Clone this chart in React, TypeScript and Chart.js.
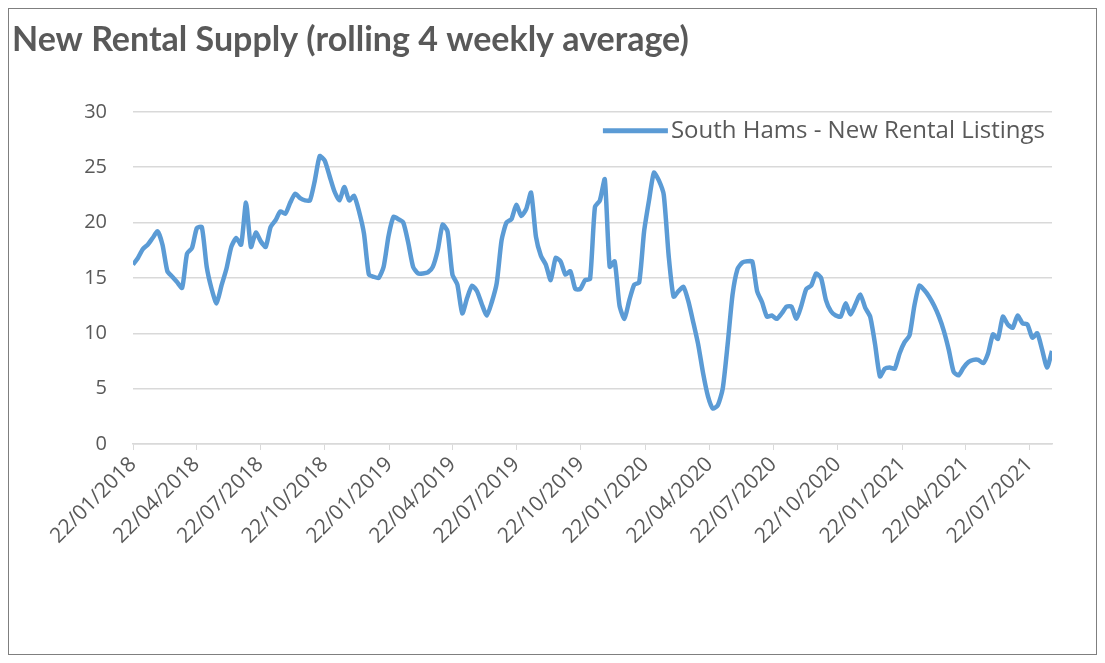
import { useEffect, useRef } from "react";
import { Chart, registerables } from "chart.js";

Chart.register(...registerables);

const chartTitle = "New Rental Supply (rolling 4 weekly average)";
const seriesName = "South Hams - New Rental Listings";

// first week of the series (weekly data, one value per Monday)
const firstWeek = "22/01/2018";

// x-axis tick labels (quarterly)
const xTickLabels = [
  "22/01/2018", "22/04/2018", "22/07/2018", "22/10/2018",
  "22/01/2019", "22/04/2019", "22/07/2019", "22/10/2019",
  "22/01/2020", "22/04/2020", "22/07/2020", "22/10/2020",
  "22/01/2021", "22/04/2021", "22/07/2021",
];

const yTickValues = [0, 5, 10, 15, 20, 25, 30];

// rolling 4-weekly average of new rental listings, one value per week
const weeklyListings = [
  16.2, 16.8, 17.6, 18.0, 18.6, 19.2, 18.0, 15.6, 15.1, 14.6,
  14.1, 17.2, 17.7, 19.5, 19.6, 16.0, 14.0, 12.7, 14.3, 15.8,
  17.8, 18.6, 18.0, 21.8, 17.8, 19.1, 18.3, 17.8, 19.6, 20.2,
  21.0, 20.8, 21.8, 22.6, 22.2, 22.0, 22.0, 23.8, 26.0, 25.6,
  24.2, 22.8, 22.0, 23.2, 22.0, 22.4, 21.0, 19.0, 15.3, 15.1,
  15.0, 16.0, 18.8, 20.5, 20.3, 20.0, 18.2, 16.0, 15.4, 15.4,
  15.5, 16.0, 17.5, 19.8, 19.2, 15.3, 14.4, 11.8, 13.2, 14.3,
  13.8, 12.6, 11.6, 12.8, 14.5, 18.4, 20.0, 20.3, 21.6, 20.6,
  21.2, 22.7, 18.7, 17.0, 16.2, 14.8, 16.8, 16.5, 15.3, 15.6,
  14.0, 14.0, 14.8, 14.9, 21.4, 22.0, 23.9, 16.0, 16.5, 12.5,
  11.3, 13.0, 14.4, 14.6, 19.2, 22.0, 24.5, 23.8, 22.5, 17.0,
  13.3, 13.8, 14.2, 12.9, 11.0, 9.0, 6.4, 4.3, 3.2, 3.5,
  5.0, 9.0, 13.5, 15.8, 16.4, 16.5, 16.5, 13.8, 12.8, 11.5,
  11.6, 11.3, 11.8, 12.4, 12.4, 11.3, 12.5, 14.0, 14.3, 15.4,
  15.0, 13.0, 12.0, 11.6, 11.5, 12.7, 11.7, 12.6, 13.5, 12.3,
  11.5, 9.0, 6.1, 6.8, 6.9, 6.8, 8.2, 9.2, 9.8, 12.5,
  14.3, 13.9, 13.3, 12.5, 11.5, 10.2, 8.5, 6.5, 6.2, 6.9,
  7.4, 7.6, 7.6, 7.3, 8.2, 9.9, 9.5, 11.5, 10.8, 10.5,
  11.6, 10.9, 10.8, 9.6, 10.0, 8.5, 6.9, 8.4,
];

const DAY = 86400000;
function parseDate(s: string): number {
  const [d, m, y] = s.split("/").map(Number);
  return Date.UTC(y, m - 1, d);
}
const t0 = parseDate(firstWeek);
const dayOffset = (s: string) => Math.round((parseDate(s) - t0) / DAY);
const tickOffsets = xTickLabels.map(dayOffset);

const LINE_COLOR = "#5B9BD5";
const TEXT_COLOR = "#595959";
const GRID_COLOR = "#D9D9D9";
const LEGEND_FONT = "24px 'Open Sans'";

// legend drawn inside the plot area, top right (Excel style)
const insideLegend = {
  id: "insideLegend",
  afterDatasetsDraw(chart: any) {
    const { ctx, chartArea } = chart;
    const ds = chart.data.datasets[0];
    ctx.save();
    ctx.font = LEGEND_FONT;
    const text = String(ds.label);
    const tw = ctx.measureText(text).width;
    const textRight = chartArea.right - 7;
    const textLeft = textRight - tw;
    const cy = chartArea.top + 19;
    const lineRight = textLeft - 3;
    const lineLeft = lineRight - 65;
    ctx.strokeStyle = ds.borderColor;
    ctx.lineWidth = 5;
    ctx.lineCap = "butt";
    ctx.beginPath();
    ctx.moveTo(lineLeft, cy);
    ctx.lineTo(lineRight, cy);
    ctx.stroke();
    ctx.fillStyle = TEXT_COLOR;
    ctx.textBaseline = "middle";
    ctx.textAlign = "left";
    ctx.fillText(text, textLeft, cy);
    ctx.restore();
  },
};

export default function App() {
  const canvasRef = useRef<HTMLCanvasElement | null>(null);

  useEffect(() => {
    if (!canvasRef.current) return;
    const points = weeklyListings.map((v, i) => ({ x: i * 7, y: v }));
    const chart = new Chart(canvasRef.current, {
      type: "line",
      data: {
        datasets: [
          {
            label: seriesName,
            data: points,
            borderColor: LINE_COLOR,
            backgroundColor: LINE_COLOR,
            borderWidth: 4.5,
            pointRadius: 0,
            pointHoverRadius: 0,
            tension: 0.2,
            borderJoinStyle: "round",
          },
        ],
      },
      options: {
        responsive: false,
        animation: false,
        layout: { padding: { left: 3, right: 44, top: 11, bottom: 0 } },
        plugins: {
          title: {
            display: true,
            text: chartTitle,
            align: "start",
            color: TEXT_COLOR,
            font: { family: "Lato", size: 34, weight: "bold" },
            padding: { top: 0, bottom: 51 },
          },
          legend: { display: false },
          tooltip: { enabled: false },
        },
        scales: {
          x: {
            type: "linear",
            min: 0,
            max: (weeklyListings.length - 1) * 7,
            afterBuildTicks: (scale: any) => {
              scale.ticks = tickOffsets.map((v) => ({ value: v }));
            },
            afterFit: (scale: any) => {
              scale.height = 210;
            },
            ticks: {
              autoSkip: false,
              minRotation: 45,
              maxRotation: 45,
              color: TEXT_COLOR,
              font: { family: "Open Sans", size: 21 },
              padding: 2,
              callback: (value: any) => {
                const idx = tickOffsets.indexOf(Number(value));
                return idx >= 0 ? xTickLabels[idx] : "";
              },
            },
            grid: {
              drawOnChartArea: false,
              drawTicks: true,
              tickLength: 6,
              color: GRID_COLOR,
            },
            border: { display: true, color: GRID_COLOR, width: 1.5 },
          },
          y: {
            min: 0,
            max: 30,
            afterBuildTicks: (scale: any) => {
              scale.ticks = yTickValues.map((v) => ({ value: v }));
            },
            afterFit: (scale: any) => {
              scale.width = 121;
            },
            ticks: {
              color: TEXT_COLOR,
              font: { family: "Open Sans", size: 20 },
              padding: 26,
            },
            grid: { color: GRID_COLOR, lineWidth: 1.5, drawTicks: false },
            border: { display: false },
          },
        },
      },
      plugins: [insideLegend],
    });
    return () => chart.destroy();
  }, []);

  return (
    <div
      style={{
        width: 1089,
        height: 647,
        border: "1px solid #7f7f7f",
        boxSizing: "border-box",
        background: "#fff",
      }}
    >
      <canvas ref={canvasRef} width={1087} height={645} style={{ display: "block" }} />
    </div>
  );
}
